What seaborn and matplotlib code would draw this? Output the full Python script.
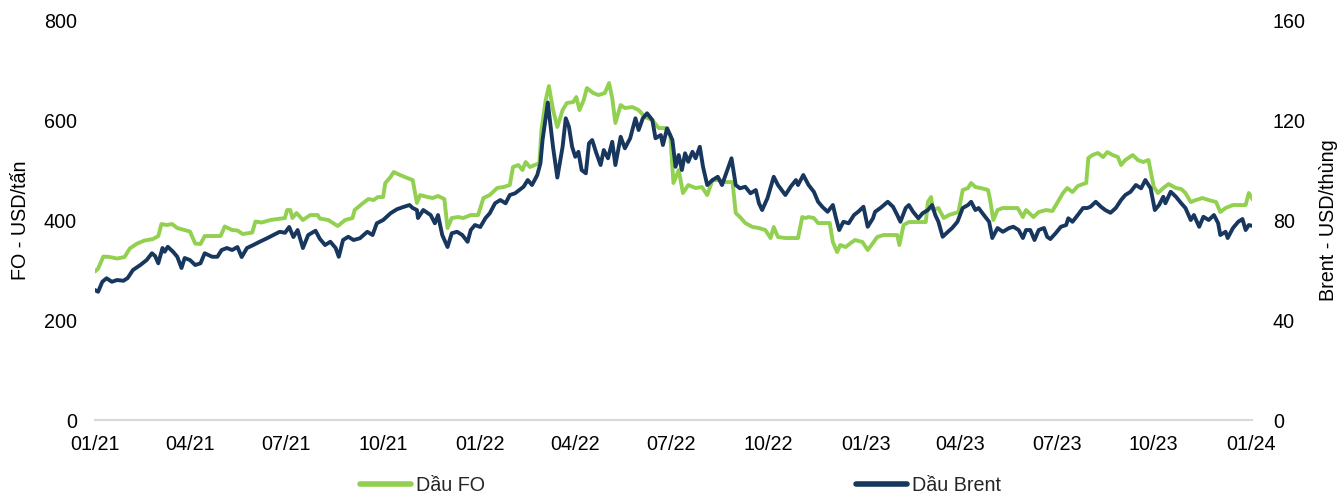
import matplotlib
matplotlib.use("Agg")
import matplotlib.pyplot as plt
import matplotlib.dates as mdates
from matplotlib.lines import Line2D
import pandas as pd
import seaborn as sns

# Fuel oil price (USD/tonne): day offset from 2021-01-01 and price
fo_day = [0, 3, 8, 14, 21, 28, 33, 40, 47, 55, 60, 63, 68, 73, 78, 85, 90, 95, 100, 104,
          112, 119, 123, 130, 135, 140, 149, 152, 158, 166, 173, 180, 182, 185, 187, 191, 197, 204, 211, 213,
          221, 230, 237, 244, 246, 254, 259, 264, 268, 273, 275, 280, 283, 289, 296, 301, 305, 308, 315, 320,
          325, 331, 334, 338, 344, 349, 356, 363, 368, 374, 381, 387, 393, 396, 401, 405, 408, 412, 419, 421,
          423, 427, 430, 434, 438, 443, 447, 453, 456, 459, 463, 466, 472, 477, 483, 487, 490, 493, 498, 502,
          509, 515, 521, 528, 534, 540, 545, 548, 553, 557, 562, 569, 575, 580, 585, 591, 597, 604, 607, 611,
          616, 623, 629, 635, 640, 643, 647, 654, 661, 666, 670, 673, 676, 681, 685, 690, 696, 699, 703, 706,
          711, 716, 720, 727, 732, 737, 741, 747, 754, 760, 762, 766, 771, 775, 782, 787, 789, 792, 794, 799,
          804, 809, 815, 818, 822, 827, 830, 834, 839, 846, 848, 851, 855, 860, 866, 874, 879, 882, 889, 894,
          901, 907, 912, 917, 921, 926, 931, 936, 939, 941, 945, 950, 955, 959, 964, 969, 972, 976, 983, 988,
          993, 998, 1003, 1007, 1012, 1017, 1024, 1029, 1033, 1038, 1043, 1049, 1055, 1062, 1066, 1071, 1078, 1084, 1090, 1093,
          1097]
fo_price = [297, 303, 327, 326, 323, 326, 343, 353, 359, 362, 368, 392, 390, 392, 384, 380, 377, 353, 352, 368,
            368, 368, 387, 380, 379, 372, 375, 397, 395, 400, 402, 404, 420, 420, 404, 414, 400, 410, 410, 403,
            400, 388, 400, 404, 420, 434, 442, 440, 446, 446, 474, 486, 496, 490, 484, 480, 434, 450, 446, 444,
            448, 442, 384, 404, 406, 404, 410, 410, 444, 450, 464, 466, 470, 506, 510, 500, 516, 506, 512, 514,
            580, 640, 668, 620, 586, 620, 634, 636, 646, 620, 640, 664, 654, 650, 654, 674, 644, 594, 630, 624,
            626, 620, 606, 600, 584, 584, 570, 474, 500, 454, 470, 464, 466, 450, 480, 480, 476, 476, 414, 406,
            394, 386, 384, 380, 364, 386, 366, 364, 364, 364, 406, 404, 406, 404, 394, 394, 394, 356, 336, 350,
            346, 354, 360, 356, 340, 354, 366, 370, 370, 370, 350, 390, 396, 396, 396, 396, 436, 446, 420, 424,
            404, 410, 414, 416, 460, 464, 474, 466, 464, 460, 440, 400, 420, 424, 424, 424, 406, 420, 406, 416,
            420, 418, 436, 454, 464, 456, 468, 472, 474, 524, 530, 534, 526, 536, 530, 526, 510, 520, 530, 520,
            516, 520, 466, 454, 464, 472, 464, 462, 454, 436, 440, 444, 440, 436, 416, 424, 430, 430, 430, 454,
            440]

# Brent crude price (USD/barrel): day offset from 2021-01-01 and price
brent_day = [0, 3, 7, 11, 16, 21, 27, 31, 36, 43, 49, 54, 57, 60, 64, 66, 69, 74, 78, 82,
             85, 90, 95, 100, 104, 111, 116, 120, 125, 130, 135, 139, 144, 150, 156, 163, 169, 175, 180, 184,
             188, 192, 197, 202, 209, 213, 218, 223, 228, 231, 235, 240, 245, 251, 258, 263, 267, 273, 280, 286,
             292, 298, 301, 305, 306, 311, 318, 322, 325, 329, 334, 338, 343, 348, 353, 356, 360, 365, 370, 374,
             379, 384, 389, 393, 398, 402, 406, 410, 414, 419, 422, 424, 429, 434, 438, 443, 446, 449, 452, 455,
             458, 461, 465, 468, 471, 475, 479, 482, 486, 490, 493, 498, 502, 507, 512, 515, 519, 523, 528, 531,
             536, 538, 542, 547, 550, 553, 556, 559, 562, 566, 569, 573, 576, 580, 585, 590, 594, 599, 603, 607,
             611, 616, 621, 626, 629, 632, 637, 643, 647, 654, 659, 664, 666, 671, 676, 681, 685, 689, 694, 699,
             702, 705, 709, 714, 719, 723, 728, 732, 737, 739, 744, 751, 756, 760, 763, 768, 771, 775, 780, 784,
             789, 793, 796, 799, 803, 808, 812, 817, 822, 827, 830, 834, 837, 842, 847, 850, 855, 860, 866, 870,
             875, 879, 882, 886, 890, 894, 899, 902, 905, 910, 915, 920, 922, 926, 931, 936, 940, 943, 948, 953,
             957, 962, 967, 972, 976, 981, 986, 991, 995, 1000, 1004, 1008, 1012, 1014, 1019, 1024, 1029, 1033, 1038, 1041,
             1046, 1050, 1055, 1060, 1064, 1066, 1071, 1073, 1078, 1083, 1087, 1090, 1093, 1097]
brent_price = [52.0, 51.3, 55.3, 56.7, 55.3, 56.0, 55.7, 56.8, 60.0, 62.0, 64.0, 66.7, 65.6, 62.7, 68.8, 67.3, 69.3, 67.3, 65.3, 60.8,
               64.8, 64.0, 62.0, 62.7, 66.7, 65.3, 65.3, 68.0, 68.8, 68.0, 69.2, 65.2, 68.8, 70.0, 71.3, 72.7, 74.0, 75.3, 74.9, 77.2,
               73.2, 76.0, 68.8, 74.0, 75.7, 72.5, 70.0, 71.3, 68.8, 65.3, 72.0, 73.3, 72.0, 72.7, 75.3, 74.0, 78.7, 80.0, 82.7, 84.3,
               85.2, 86.0, 84.8, 84.0, 80.8, 84.0, 82.0, 78.7, 82.0, 74.0, 69.2, 74.7, 75.3, 74.0, 71.3, 76.0, 78.0, 77.2, 80.8, 82.7,
               86.7, 88.0, 86.7, 90.0, 90.7, 92.0, 93.3, 96.0, 94.0, 98.0, 102.7, 112.0, 127.0, 109.0, 97.0, 109.3, 120.7, 117.3, 109.3, 105.3,
               107.3, 100.0, 98.7, 110.7, 112.0, 106.7, 102.0, 108.0, 104.7, 111.3, 102.0, 113.3, 108.7, 112.7, 120.7, 116.0, 120.7, 122.7, 120.0, 112.7,
               114.0, 110.0, 116.7, 112.0, 101.3, 106.0, 100.0, 106.7, 103.3, 107.3, 104.7, 109.3, 101.3, 94.0, 96.0, 97.3, 94.0, 100.0, 104.7, 94.0,
               92.7, 93.3, 90.7, 92.0, 86.7, 84.0, 88.7, 97.3, 94.0, 90.0, 93.3, 96.0, 94.0, 98.0, 94.0, 91.3, 87.3, 85.3, 83.3, 86.0,
               80.7, 76.0, 79.3, 78.7, 82.0, 83.3, 85.3, 77.3, 80.7, 83.3, 84.8, 87.3, 85.3, 82.0, 79.3, 84.8, 86.0, 83.3, 80.7, 82.7,
               84.0, 86.0, 82.0, 79.3, 73.3, 75.3, 76.8, 79.3, 84.8, 86.0, 87.3, 84.0, 84.8, 82.0, 79.3, 72.8, 76.8, 75.3, 76.8, 77.3,
               76.0, 72.8, 76.0, 76.0, 72.0, 76.0, 76.8, 73.3, 72.4, 74.7, 77.3, 78.0, 80.7, 79.3, 82.0, 84.8, 84.8, 85.3, 87.3, 85.3,
               84.0, 82.9, 84.8, 88.0, 90.0, 91.3, 94.0, 92.7, 96.0, 92.7, 84.0, 86.0, 89.3, 86.7, 91.3, 89.3, 86.7, 84.8, 80.0, 82.0,
               77.3, 81.3, 80.0, 82.0, 78.7, 74.0, 75.3, 72.8, 76.8, 79.3, 80.4, 76.0, 78.0, 77.6]

fo_yticks = [0, 200, 400, 600, 800]
brent_yticks = [0, 40, 80, 120, 160]
fo_label = "Dầu FO"
brent_label = "Dầu Brent"

GREEN = "#92D050"
NAVY = "#17375E"
AXIS_GREY = "#D9D9D9"
FS = 14.2

start = pd.Timestamp("2021-01-01")
fo = pd.DataFrame({"date": start + pd.to_timedelta(fo_day, unit="D"), "price": fo_price})
brent = pd.DataFrame({"date": start + pd.to_timedelta(brent_day, unit="D"), "price": brent_price})

sns.set_theme(style="white")
plt.rcParams["font.family"] = ["Liberation Sans", "DejaVu Sans"]

fig = plt.figure(figsize=(13.39, 4.95), dpi=100)
ax = fig.add_axes([0.0709, 0.1515, 0.8641, 0.808])
ax2 = ax.twinx()

sns.lineplot(data=fo, x="date", y="price", ax=ax, color=GREEN, linewidth=2.8, legend=False)
sns.lineplot(data=brent, x="date", y="price", ax=ax2, color=NAVY, linewidth=2.8, legend=False)

ax.set_xlim(start, pd.Timestamp("2024-01-02"))
ax.set_ylim(0, 800)
ax2.set_ylim(0, 160)
ax.set_yticks(fo_yticks)
ax2.set_yticks(brent_yticks)

ax.xaxis.set_major_locator(mdates.MonthLocator(bymonth=[1, 4, 7, 10]))
ax.xaxis.set_major_formatter(mdates.DateFormatter("%m/%y"))

for a in (ax, ax2):
    for side in ("top", "left", "right", "bottom"):
        a.spines[side].set_visible(False)
    a.grid(False)
ax.spines["bottom"].set_visible(True)
ax.spines["bottom"].set_color(AXIS_GREY)
ax.spines["bottom"].set_linewidth(1.5)

ax.tick_params(axis="x", direction="out", length=6, width=1.2, color=AXIS_GREY,
               labelsize=FS, labelcolor="black", pad=5)
ax.tick_params(axis="y", length=0, labelsize=FS, labelcolor="black", pad=13)
ax2.tick_params(axis="y", length=0, labelsize=FS, labelcolor="black", pad=15)

ax.set_xlabel("")
ax.set_ylabel("FO - USD/tấn", fontsize=FS, color="black")
ax2.set_ylabel("Brent - USD/thùng", fontsize=FS, color="black")
ax.yaxis.set_label_coords(-0.056, 0.5)
ax2.yaxis.set_label_coords(1.058, 0.5)

handles = [Line2D([], [], color=GREEN, linewidth=4),
           Line2D([], [], color=NAVY, linewidth=4)]
fig.legend(handles, [fo_label, brent_label], loc="center", bbox_to_anchor=(0.508, 0.02),
           ncol=2, frameon=False, fontsize=FS, handlelength=2.6, handletextpad=0.25,
           columnspacing=18.8)

fig.savefig("out.png", dpi=100)
